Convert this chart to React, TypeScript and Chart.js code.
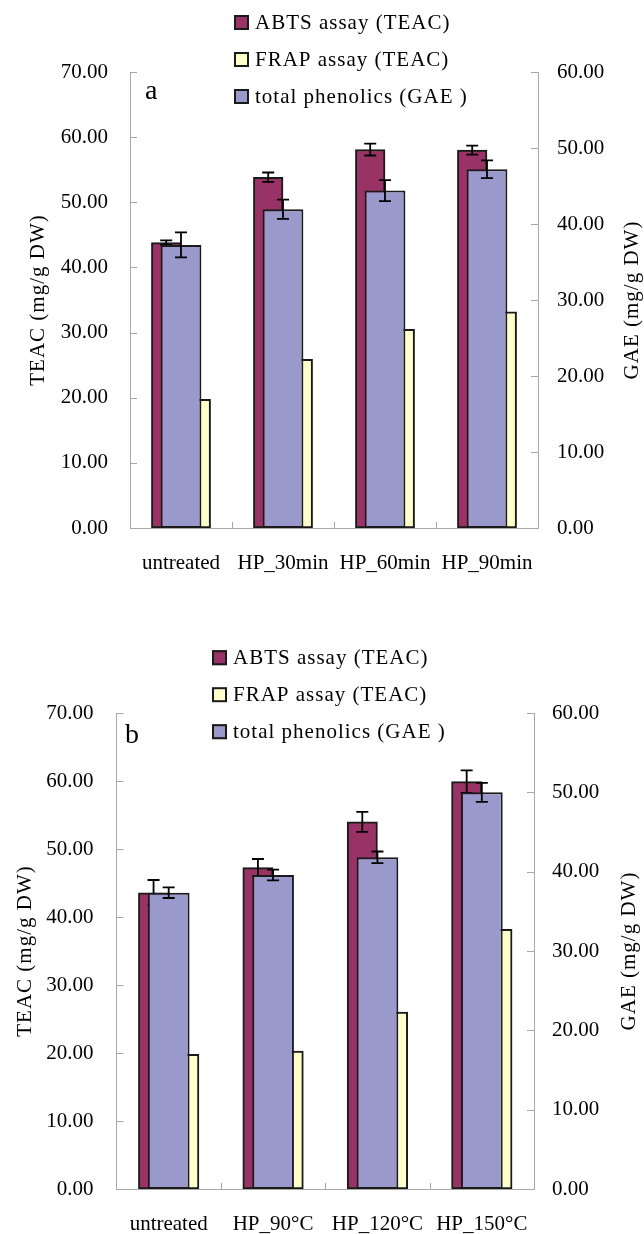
import React, { useEffect, useRef } from 'react';
import { Chart, registerables } from 'chart.js';

Chart.register(...registerables);

// ---------- data ----------
const categoriesA = ['untreated', 'HP_30min', 'HP_60min', 'HP_90min'];
const abtsA = [43.8, 53.85, 58.1, 58.0];
const abtsErrA = [0.36, 0.72, 0.92, 0.69];
const frapA = [19.75, 25.9, 30.5, 33.2];
const phenolicsA = [37.25, 41.95, 44.4, 47.2];
const phenolicsErrA = [1.64, 1.27, 1.38, 1.16];

const categoriesB = ['untreated', 'HP_90°C', 'HP_120°C', 'HP_150°C'];
const abtsB = [43.57, 47.25, 54.0, 59.9];
const abtsErrB = [1.87, 1.28, 1.47, 1.65];
const frapB = [19.8, 20.3, 26.0, 38.2];
const phenolicsB = [37.35, 39.58, 41.81, 50.0];
const phenolicsErrB = [0.67, 0.67, 0.73, 1.2];

const seriesLabels = ['ABTS assay (TEAC)', 'FRAP assay (TEAC)', 'total phenolics (GAE )'];
const leftAxisTitle = 'TEAC (mg/g DW)';
const rightAxisTitle = 'GAE (mg/g DW)';
const teacMax = 70;
const gaeMax = 60;
const tickStep = 10;

// ---------- styles ----------
const ABTS_COLOR = '#993366';
const FRAP_COLOR = '#FFFFCC';
const PHEN_COLOR = '#9999CC';
const BAR_BORDER = '#1a1a1a';
const AXIS_COLOR = '#a8a8a8';
const FONT_FAMILY = '"Liberation Serif", "Times New Roman", serif';
// primary-axis group (ABTS + FRAP) occupies this share of a category
const PRIMARY_GROUP = 0.58;
// secondary-axis bar (phenolics) width share of a category
const SECONDARY_BAR = 0.4;

type PanelCfg = {
  letter: string;
  categories: string[];
  abts: number[];
  abtsErr: number[];
  frap: number[];
  phen: number[];
  phenErr: number[];
  top: number;
  canvasTop: number;
  height: number;
  left: number;
  right: number;
  bottom: number;
  leftTitleX: number;
  rightTitleX: number;
  letterX: number;
  letterY: number;
  legendX: number;
  legendY: number;
  legendGap: number;
  leftTickPad: number;
  rightTickPad: number;
};

const W = 644;

const panelA: PanelCfg = {
  letter: 'a',
  categories: categoriesA,
  abts: abtsA,
  abtsErr: abtsErrA,
  frap: frapA,
  phen: phenolicsA,
  phenErr: phenolicsErrA,
  canvasTop: 0,
  height: 620,
  top: 72,
  bottom: 528,
  left: 130,
  right: 538,
  leftTitleX: 38,
  rightTitleX: 632,
  letterX: 145,
  letterY: 99,
  legendX: 234,
  legendY: 22.5,
  legendGap: 37,
  leftTickPad: 22,
  rightTickPad: 19,
};

const panelB: PanelCfg = {
  letter: 'b',
  categories: categoriesB,
  abts: abtsB,
  abtsErr: abtsErrB,
  frap: frapB,
  phen: phenolicsB,
  phenErr: phenolicsErrB,
  canvasTop: 620,
  height: 614,
  top: 93,
  bottom: 569,
  left: 116.5,
  right: 534,
  leftTitleX: 25,
  rightTitleX: 629,
  letterX: 125,
  letterY: 123,
  legendX: 212,
  legendY: 37.7,
  legendGap: 37,
  leftTickPad: 23,
  rightTickPad: 18,
};

const errorBarPlugin = {
  id: 'errorBars',
  afterDatasetDraw(chart: any, args: any) {
    const ds = chart.data.datasets[args.index];
    const errs: number[] | undefined = ds.errorBars;
    if (!errs) return;
    const meta = args.meta;
    const ys = chart.scales[meta.yAxisID];
    const ctx = chart.ctx;
    ctx.save();
    ctx.strokeStyle = '#000';
    ctx.lineWidth = 1.8;
    meta.data.forEach((el: any, i: number) => {
      const d = ds.data[i];
      const v = typeof d === 'number' ? d : d.y;
      const e = errs[i];
      const x = el.x;
      const t = ys.getPixelForValue(v + e);
      const b = ys.getPixelForValue(v - e);
      ctx.beginPath();
      ctx.moveTo(x, t);
      ctx.lineTo(x, b);
      ctx.moveTo(x - 6, t);
      ctx.lineTo(x + 6, t);
      ctx.moveTo(x - 6, b);
      ctx.lineTo(x + 6, b);
      ctx.stroke();
    });
    ctx.restore();
  },
};

function makeDecorPlugin(cfg: PanelCfg) {
  return {
    id: 'decor',
    afterDraw(chart: any) {
      const ctx = chart.ctx;
      const area = chart.chartArea;
      ctx.save();
      // inward tick marks
      ctx.strokeStyle = AXIS_COLOR;
      ctx.lineWidth = 1;
      const y = chart.scales.y;
      const y2 = chart.scales.y2;
      const x = chart.scales.x;
      ctx.beginPath();
      y.ticks.forEach((t: any) => {
        const py = Math.round(y.getPixelForValue(t.value)) + 0.5;
        ctx.moveTo(area.left, py);
        ctx.lineTo(area.left + 7, py);
      });
      y2.ticks.forEach((t: any) => {
        const py = Math.round(y2.getPixelForValue(t.value)) + 0.5;
        ctx.moveTo(area.right - 7, py);
        ctx.lineTo(area.right, py);
      });
      for (let i = 1; i < cfg.categories.length; i++) {
        const px = Math.round((x.getPixelForValue(i - 1) + x.getPixelForValue(i)) / 2) + 0.5;
        ctx.moveTo(px, area.bottom);
        ctx.lineTo(px, area.bottom - 6);
      }
      ctx.stroke();

      // axis titles
      ctx.fillStyle = '#000';
      ctx.font = `21px ${FONT_FAMILY}`;
      (ctx as any).letterSpacing = '1px';
      ctx.textAlign = 'center';
      ctx.textBaseline = 'middle';
      const midY = (area.top + area.bottom) / 2;
      ctx.save();
      ctx.translate(cfg.leftTitleX, midY);
      ctx.rotate(-Math.PI / 2);
      ctx.fillText(leftAxisTitle, 0, 0);
      ctx.restore();
      ctx.save();
      ctx.translate(cfg.rightTitleX, midY);
      ctx.rotate(-Math.PI / 2);
      ctx.fillText(rightAxisTitle, 0, 0);
      ctx.restore();

      // legend
      const items = [
        { label: seriesLabels[0], color: ABTS_COLOR },
        { label: seriesLabels[1], color: FRAP_COLOR },
        { label: seriesLabels[2], color: PHEN_COLOR },
      ];
      ctx.textAlign = 'left';
      items.forEach((it, i) => {
        const cy = cfg.legendY + i * cfg.legendGap;
        ctx.fillStyle = it.color;
        ctx.fillRect(cfg.legendX, cy - 7.5, 15, 15);
        ctx.strokeStyle = BAR_BORDER;
        ctx.lineWidth = 2;
        ctx.strokeRect(cfg.legendX + 1, cy - 6.5, 13, 13);
        ctx.fillStyle = '#000';
        ctx.fillText(it.label, cfg.legendX + 21, cy + 1);
      });

      // panel letter
      (ctx as any).letterSpacing = '0px';
      ctx.font = `28px ${FONT_FAMILY}`;
      ctx.textBaseline = 'alphabetic';
      ctx.fillText(cfg.letter, cfg.letterX, cfg.letterY);
      ctx.restore();
    },
  };
}

function Panel({ cfg }: { cfg: PanelCfg }) {
  const ref = useRef<HTMLCanvasElement | null>(null);
  useEffect(() => {
    if (!ref.current) return;
    const font = { family: FONT_FAMILY, size: 21 };
    const n = cfg.categories.length;
    const catW = (cfg.right - cfg.left) / n;
    const primaryThickness = (catW * PRIMARY_GROUP) / 2;
    const shift = PRIMARY_GROUP / 4; // centre offset of each primary bar, in categories
    const barCommon = {
      borderColor: BAR_BORDER,
      borderWidth: 2,
      borderSkipped: false,
      barPercentage: 1,
      grouped: false,
    };
    const hiddenLinear = (delta: number) => ({
      type: 'linear',
      position: 'bottom',
      display: false,
      offset: false,
      min: -0.5 + delta,
      max: n - 0.5 + delta,
      grid: { display: false },
    });
    const chart = new Chart(ref.current, {
      type: 'bar',
      data: {
        labels: cfg.categories,
        datasets: [
          {
            ...barCommon,
            label: seriesLabels[2],
            data: cfg.phen,
            xAxisID: 'x',
            yAxisID: 'y2',
            backgroundColor: PHEN_COLOR,
            categoryPercentage: SECONDARY_BAR,
            order: 0,
            errorBars: cfg.phenErr,
          } as any,
          {
            ...barCommon,
            label: seriesLabels[0],
            data: cfg.abts.map((v, i) => ({ x: i, y: v })),
            xAxisID: 'xa',
            yAxisID: 'y',
            backgroundColor: ABTS_COLOR,
            barThickness: primaryThickness,
            order: 1,
            errorBars: cfg.abtsErr,
          } as any,
          {
            ...barCommon,
            label: seriesLabels[1],
            data: cfg.frap.map((v, i) => ({ x: i, y: v })),
            xAxisID: 'xf',
            yAxisID: 'y',
            backgroundColor: FRAP_COLOR,
            barThickness: primaryThickness,
            order: 1,
          } as any,
        ],
      },
      options: {
        responsive: false,
        animation: false,
        devicePixelRatio: 1,
        layout: { padding: { top: cfg.top, left: 0, right: 0, bottom: 0 } },
        plugins: {
          legend: { display: false },
          tooltip: { enabled: false },
          title: { display: false },
        },
        scales: {
          x: {
            type: 'category',
            position: 'bottom',
            offset: true,
            grid: { display: false, drawTicks: false },
            border: { display: true, color: AXIS_COLOR, width: 1 },
            ticks: { font, color: '#000', padding: 23, maxRotation: 0, autoSkip: false },
            afterFit: (s: any) => {
              s.height = cfg.height - cfg.bottom;
              s.paddingLeft = 0;
              s.paddingRight = 0;
            },
          },
          xa: hiddenLinear(shift),
          xf: hiddenLinear(-shift),
          y: {
            type: 'linear',
            position: 'left',
            min: 0,
            max: teacMax,
            grid: { display: false, drawTicks: false },
            border: { display: true, color: AXIS_COLOR, width: 1 },
            ticks: {
              stepSize: tickStep,
              font,
              color: '#000',
              padding: cfg.leftTickPad,
              callback: (v: any) => Number(v).toFixed(2),
            },
            afterFit: (s: any) => {
              s.width = cfg.left;
              s.paddingTop = 0;
              s.paddingBottom = 0;
            },
          },
          y2: {
            type: 'linear',
            position: 'right',
            min: 0,
            max: gaeMax,
            grid: { display: false, drawTicks: false },
            border: { display: true, color: AXIS_COLOR, width: 1 },
            ticks: {
              stepSize: tickStep,
              font,
              color: '#000',
              padding: cfg.rightTickPad,
              callback: (v: any) => Number(v).toFixed(2),
            },
            afterFit: (s: any) => {
              s.width = W - cfg.right;
              s.paddingTop = 0;
              s.paddingBottom = 0;
            },
          },
        },
      } as any,
      plugins: [errorBarPlugin, makeDecorPlugin(cfg)],
    });
    return () => chart.destroy();
  }, [cfg]);
  return (
    <canvas
      ref={ref}
      width={W}
      height={cfg.height}
      style={{ position: 'absolute', left: 0, top: cfg.canvasTop, width: W, height: cfg.height }}
    />
  );
}

export default function App() {
  return (
    <div style={{ position: 'absolute', left: 0, top: 0, width: W, height: 1234, background: '#fff' }}>
      <Panel cfg={panelA} />
      <Panel cfg={panelB} />
    </div>
  );
}
